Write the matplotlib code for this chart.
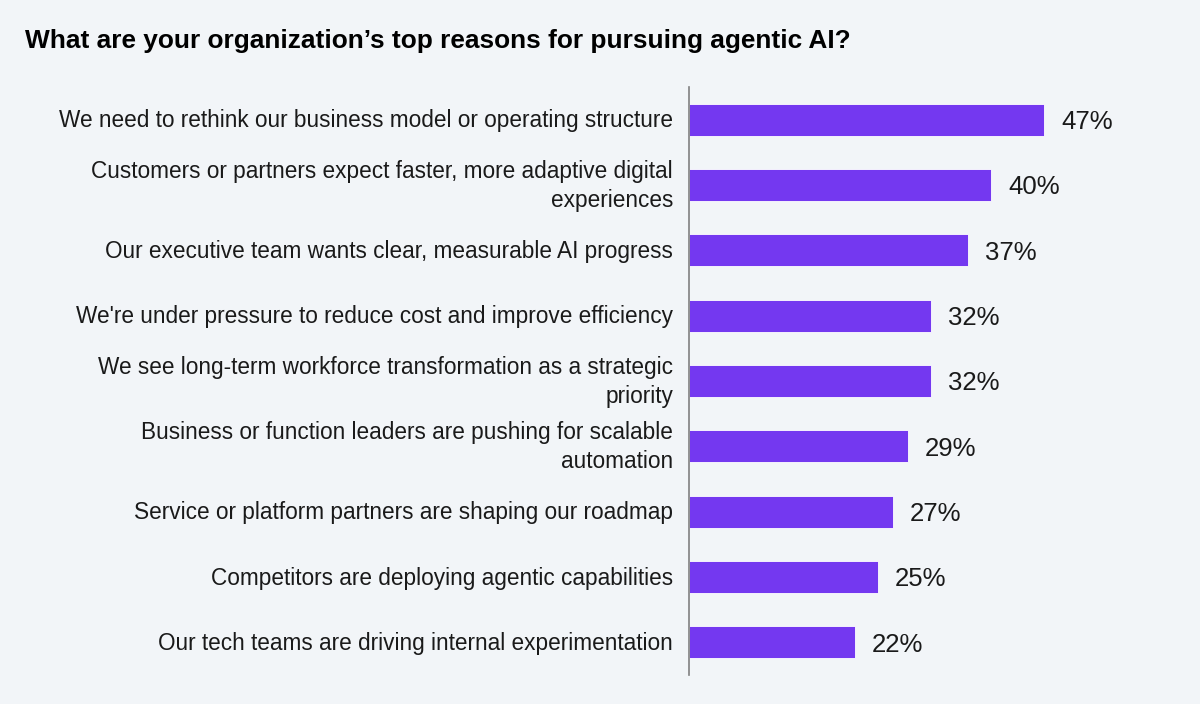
import matplotlib
matplotlib.use("Agg")
import matplotlib.pyplot as plt
from matplotlib.transforms import ScaledTranslation

categories = [
    "We need to rethink our business model or operating structure",
    "Customers or partners expect faster, more adaptive digital\nexperiences",
    "Our executive team wants clear, measurable AI progress",
    "We're under pressure to reduce cost and improve efficiency",
    "We see long-term workforce transformation as a strategic\npriority",
    "Business or function leaders are pushing for scalable\nautomation",
    "Service or platform partners are shaping our roadmap",
    "Competitors are deploying agentic capabilities",
    "Our tech teams are driving internal experimentation",
]
values = [47, 40, 37, 32, 32, 29, 27, 25, 22]
title = "What are your organization\u2019s top reasons for pursuing agentic AI?"

BG = "#F2F5F8"
BAR = "#7438F0"

plt.rcParams['font.family'] = ['Liberation Sans', 'DejaVu Sans']

W, H = 1200, 704
fig = plt.figure(figsize=(W / 100, H / 100), dpi=100, facecolor=BG)
ax_left, ax_right = 689, 1180
ax_top, ax_bottom = 87, 675
ax = fig.add_axes([ax_left / W, 1 - ax_bottom / H, (ax_right - ax_left) / W, (ax_bottom - ax_top) / H])
ax.set_facecolor(BG)

px_per_unit = 355 / 47
ax.set_xlim(0, (ax_right - ax_left) / px_per_unit)
n = len(categories)
ax.set_ylim(n - 0.5, -0.5)

ypos = list(range(n))
ax.barh(ypos, values, height=0.49, color=BAR, edgecolor="white", linewidth=0.6)

for y, v in zip(ypos, values):
    ax.annotate(f"{v}%", xy=(v, y), xytext=(17, 0), textcoords="offset pixels",
                va="center_baseline", ha="left", fontsize=18.5, color="#1a1a1a")

ax.set_yticks(ypos)
ax.set_yticklabels(categories, fontsize=16.3, color="#1a1a1a", linespacing=1.33)
ax.tick_params(axis="y", length=0, pad=11.5)
for lab in ax.get_yticklabels():
    dy = 4.5 if "\n" in lab.get_text() else 1.5
    lab.set_transform(lab.get_transform() + ScaledTranslation(0, dy / 100, fig.dpi_scale_trans))
ax.set_xticks([])
for s in ["top", "right", "bottom"]:
    ax.spines[s].set_visible(False)
ax.spines["left"].set_color("#808080")
ax.spines["left"].set_linewidth(1.2)

fig.text(25 / W, 1 - 41 / H, title, fontsize=18.9, fontweight="bold", ha="left", va="center", color="#000000")

fig.savefig("out.png", dpi=100, facecolor=BG)
